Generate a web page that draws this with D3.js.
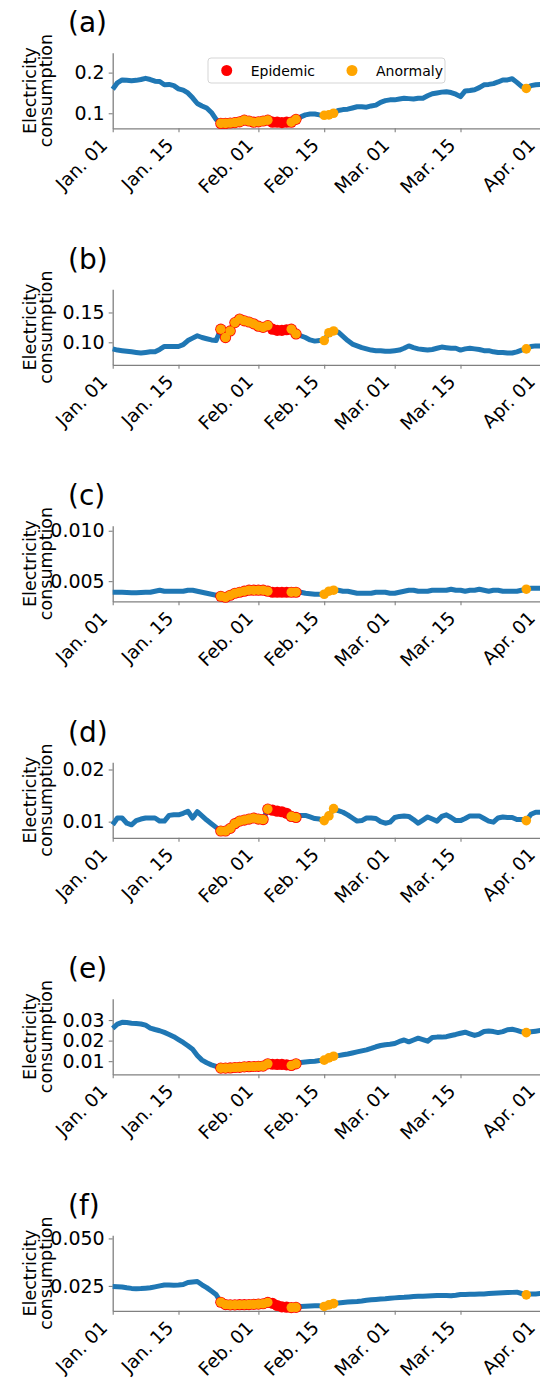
<!DOCTYPE html>
<html>
<head>
<meta charset="utf-8">
<script src="https://cdn.jsdelivr.net/npm/d3@7"></script>
<style>
  body { margin: 0; background: #fff; }
  svg { display: block; font-family: "DejaVu Sans", sans-serif; }
</style>
</head>
<body>
<div class="canvas"></div>
<script>
// daily values from Jan. 01 2020
const startDate = new Date(2020, 0, 1);

const tickDates = ["2020-01-01", "2020-01-15", "2020-02-01", "2020-02-15",
                   "2020-03-01", "2020-03-15", "2020-04-01"];

const panelLabels = ["(a)", "(b)", "(c)", "(d)", "(e)", "(f)"];

// day index (from Jan. 01) of the epidemic window and of detected anomalies
const epidemicDays = [23, 24, 25, 26, 27, 28, 29, 30, 31, 32, 33, 34, 35, 36, 37, 38, 39];
const anomalyDays = [23, 24, 25, 26, 27, 28, 29, 30, 31, 32, 33, 38, 39, 45, 46, 47, 88];

const seriesA = [0.159,0.175,0.182,0.181,0.180,0.181,0.183,0.186,0.183,0.179,
  0.178,0.170,0.171,0.168,0.160,0.157,0.150,0.138,0.124,0.118,
  0.113,0.102,0.085,0.075,0.075,0.076,0.077,0.079,0.083,0.081,
  0.078,0.079,0.081,0.083,0.078,0.078,0.077,0.078,0.078,0.085,
  0.091,0.096,0.098,0.098,0.096,0.095,0.096,0.100,0.107,0.109,
  0.110,0.113,0.116,0.116,0.115,0.118,0.120,0.127,0.131,0.133,
  0.133,0.135,0.137,0.136,0.135,0.137,0.137,0.143,0.148,0.150,
  0.152,0.153,0.151,0.147,0.141,0.155,0.156,0.158,0.163,0.170,
  0.171,0.173,0.177,0.182,0.182,0.185,0.176,0.166,0.161,0.168,
  0.170,0.171,0.171];

const seriesB = [0.089,0.087,0.086,0.085,0.084,0.083,0.082,0.083,0.084,0.084,
  0.088,0.093,0.093,0.093,0.093,0.096,0.103,0.107,0.111,0.108,
  0.106,0.104,0.103,0.122,0.108,0.119,0.133,0.139,0.136,0.134,
  0.131,0.127,0.125,0.128,0.122,0.120,0.120,0.121,0.122,0.114,
  0.111,0.108,0.104,0.102,0.103,0.103,0.116,0.119,0.117,0.110,
  0.103,0.097,0.094,0.091,0.089,0.087,0.086,0.086,0.085,0.085,
  0.086,0.087,0.090,0.094,0.091,0.089,0.088,0.087,0.088,0.090,
  0.092,0.091,0.090,0.090,0.087,0.089,0.090,0.089,0.088,0.086,
  0.086,0.084,0.083,0.083,0.082,0.082,0.084,0.087,0.089,0.093,
  0.094,0.094,0.093];

const seriesC = [0.0039,0.0039,0.0039,0.00388,0.00385,0.00385,0.00388,0.0039,0.0039,0.0040,
  0.0041,0.0040,0.0040,0.0040,0.0040,0.0040,0.0041,0.0041,0.0040,0.0039,
  0.0038,0.0037,0.0036,0.0035,0.0034,0.0036,0.0038,0.0039,0.0040,0.0041,
  0.0041,0.0041,0.0041,0.0040,0.0039,0.0039,0.0039,0.0039,0.0039,0.0039,
  0.0039,0.0038,0.00375,0.0037,0.0037,0.0037,0.0040,0.0041,0.0041,0.0040,
  0.0040,0.0039,0.0038,0.0038,0.0038,0.0038,0.0039,0.0039,0.0039,0.0038,
  0.0038,0.0039,0.0040,0.0041,0.0041,0.0040,0.0040,0.0040,0.0041,0.0041,
  0.0041,0.0041,0.0042,0.0041,0.0041,0.0040,0.0041,0.0041,0.0042,0.0041,
  0.0040,0.0041,0.0041,0.0040,0.0040,0.0040,0.0040,0.0041,0.0042,0.0043,
  0.0043,0.0043,0.0043];

const seriesD = [0.0094,0.0107,0.0107,0.0097,0.0094,0.0102,0.0105,0.0107,0.0107,0.0107,
  0.0101,0.0101,0.0112,0.0113,0.0113,0.0116,0.0120,0.0107,0.0119,0.0111,
  0.0103,0.0096,0.0089,0.0082,0.0082,0.0087,0.0096,0.0101,0.0103,0.0105,
  0.0107,0.0105,0.0104,0.0124,0.0122,0.0120,0.0119,0.0116,0.0110,0.0108,
  0.0112,0.0112,0.0109,0.0106,0.0105,0.0102,0.0111,0.0125,0.0121,0.0118,
  0.0113,0.0107,0.0101,0.0102,0.0107,0.0107,0.0106,0.0100,0.0097,0.0099,
  0.0108,0.0110,0.0111,0.0110,0.0104,0.0097,0.0103,0.0109,0.0105,0.0101,
  0.0110,0.0113,0.0108,0.0102,0.0102,0.0106,0.0111,0.0111,0.0111,0.0106,
  0.0101,0.0099,0.0107,0.0109,0.0108,0.0108,0.0104,0.0104,0.0102,0.0114,
  0.0118,0.0118,0.0118];

const seriesE = [0.0260,0.0280,0.0289,0.0288,0.0285,0.0283,0.0281,0.0275,0.0261,0.0254,
  0.0248,0.0240,0.0230,0.0219,0.0205,0.0191,0.0175,0.0158,0.0128,0.0105,
  0.0092,0.0082,0.0075,0.0066,0.0066,0.0067,0.0069,0.0070,0.0072,0.0073,
  0.0074,0.0075,0.0076,0.0087,0.0085,0.0084,0.0084,0.0082,0.0079,0.0087,
  0.0093,0.0096,0.0098,0.0100,0.0103,0.0105,0.0116,0.0124,0.0127,0.0131,
  0.0135,0.0140,0.0145,0.0150,0.0155,0.0162,0.0170,0.0176,0.0180,0.0182,
  0.0186,0.0196,0.0203,0.0194,0.0203,0.0212,0.0205,0.0197,0.0215,0.0217,
  0.0217,0.0219,0.0225,0.0230,0.0236,0.0241,0.0233,0.0225,0.0232,0.0244,
  0.0247,0.0244,0.0239,0.0244,0.0253,0.0255,0.0250,0.0243,0.0239,0.0243,
  0.0246,0.0249,0.0249];

const seriesF = [0.0247,0.0246,0.0244,0.0240,0.0237,0.0235,0.0236,0.0238,0.0240,0.0245,
  0.0250,0.0255,0.0255,0.0254,0.0255,0.0257,0.0268,0.0271,0.0273,0.0256,
  0.0241,0.0223,0.0205,0.0164,0.0152,0.0150,0.0150,0.0151,0.0151,0.0152,
  0.0153,0.0154,0.0156,0.0163,0.0158,0.0147,0.0140,0.0138,0.0136,0.0137,
  0.0142,0.0143,0.0144,0.0145,0.0145,0.0142,0.0150,0.0157,0.0160,0.0163,
  0.0165,0.0167,0.0168,0.0171,0.0175,0.0177,0.0179,0.0181,0.0182,0.0185,
  0.0187,0.0189,0.0190,0.0192,0.0194,0.0195,0.0196,0.0197,0.0198,0.0199,
  0.0199,0.0199,0.0198,0.0201,0.0205,0.0205,0.0206,0.0206,0.0207,0.0208,
  0.0210,0.0212,0.0213,0.0214,0.0215,0.0216,0.0217,0.0210,0.0203,0.0207,
  0.0208,0.0210,0.0210];

const allSeries = [seriesA, seriesB, seriesC, seriesD, seriesE, seriesF];

// y tick values and visible y range for each panel
const yTicks = [[0.1, 0.2], [0.10, 0.15], [0.005, 0.010], [0.01, 0.02], [0.01, 0.02, 0.03], [0.025, 0.050]];
const yFormats = [".1f", ".2f", ".3f", ".2f", ".2f", ".3f"];
const yDomains = [[0.063, 0.249], [0.0623, 0.189], [0.0030, 0.0105], [0.0069, 0.0214], [0.0036, 0.0404], [0.0119, 0.0517]];

const legendLabels = ["Epidemic", "Anormaly"];

const width = 540, height = 1382;
const left = 112.7, plotTop = 52.7, plotH = 75.6, step = 236.5;
const lineColour = "#1f77b4", epiColour = "#ff0000", anomColour = "#ffa500", spineColour = "#808080";

const svg = d3.select('.canvas').append('svg')
    .attr('width', width)
    .attr('height', height);

// x scale shared by all panels: Jan. 01 -> Apr. 01
const x = d3.scaleTime()
    .domain([startDate, new Date(2020, 3, 1)])
    .range([left, left + 91 * 4.7]);

const parse = d3.timeParse("%Y-%m-%d");
const fmtDate = d3.timeFormat("%b. %d");

allSeries.forEach((values, i) => {
  const top = plotTop + i * step, bottom = top + plotH;
  const dates = values.map((v, k) => d3.timeDay.offset(startDate, k));

  const y = d3.scaleLinear()
      .domain(yDomains[i])
      .range([bottom, top]);

  const graph = svg.append('g');

  // y axis
  const yAxis = graph.append('g')
      .attr('transform', `translate(${left}, 0)`)
      .call(d3.axisLeft(y)
        .tickValues(yTicks[i])
        .tickFormat(d3.format(yFormats[i]))
        .tickSize(4).tickSizeOuter(0).tickPadding(4));

  // x axis
  const xAxis = graph.append('g')
      .attr('transform', `translate(0, ${bottom})`)
      .call(d3.axisBottom(x)
        .tickValues(tickDates.map(parse))
        .tickFormat(fmtDate)
        .tickSize(4).tickSizeOuter(0).tickPadding(4));

  [yAxis, xAxis].forEach(ax => {
    ax.select('.domain').attr('stroke', spineColour).attr('stroke-width', 1.3);
    ax.selectAll('.tick line').attr('stroke', spineColour).attr('stroke-width', 1.1);
    ax.selectAll('.tick text')
      .attr('fill', '#000')
      .style('font-size', '19px')
      .style('font-family', '"DejaVu Sans", sans-serif');
  });

  xAxis.selectAll('.tick text')
      .attr('x', 0).attr('y', 0).attr('dy', 0)
      .style('font-size', '18.5px')
      .attr('text-anchor', 'end')
      .attr('transform', 'translate(-4.5, 18) rotate(-45)');

  // y label on two lines
  ["Electricity", "consumption"].forEach((t, k) => {
    graph.append('text')
      .attr('transform', `translate(${36 + k * 15.5}, ${(top + bottom) / 2}) rotate(-90)`)
      .attr('text-anchor', 'middle')
      .style('font-size', '17.5px')
      .text(t);
  });

  // panel label
  graph.append('text')
    .attr('x', 68)
    .attr('y', top - 20.5)
    .style('font-size', '28px')
    .text(panelLabels[i]);

  // series line
  const line = d3.line()
      .x((d, k) => x(dates[k]))
      .y(d => y(d));

  graph.append('path')
    .datum(values)
    .attr('d', line)
    .attr('fill', 'none')
    .attr('stroke', lineColour)
    .attr('stroke-width', 5)
    .attr('stroke-linejoin', 'round');

  // epidemic markers, then anomaly markers on top
  graph.selectAll('circle.epi')
    .data(epidemicDays)
    .enter()
    .append('circle')
      .attr('class', 'epi')
      .attr('cx', d => x(dates[d]))
      .attr('cy', d => y(values[d]))
      .attr('r', 5.6)
      .attr('fill', epiColour);

  graph.selectAll('circle.anom')
    .data(anomalyDays)
    .enter()
    .append('circle')
      .attr('class', 'anom')
      .attr('cx', d => x(dates[d]))
      .attr('cy', d => y(values[d]))
      .attr('r', 4.8)
      .attr('fill', anomColour);

  // legend only in the first panel
  if (i === 0) {
    const legend = graph.append('g');
    legend.append('rect')
      .attr('x', 208).attr('y', 58)
      .attr('width', 237).attr('height', 25)
      .attr('rx', 3)
      .attr('fill', '#fff').attr('fill-opacity', 0.8)
      .attr('stroke', '#d5d5d5');
    [epiColour, anomColour].forEach((c, k) => {
      const lx = 226.7 + k * 125.3;
      legend.append('circle')
        .attr('cx', lx).attr('cy', 70.5).attr('r', 5.5)
        .attr('fill', c);
      legend.append('text')
        .attr('x', lx + 24).attr('y', 75.5)
        .style('font-size', '14px')
        .text(legendLabels[k]);
    });
  }
});
</script>
</body>
</html>
